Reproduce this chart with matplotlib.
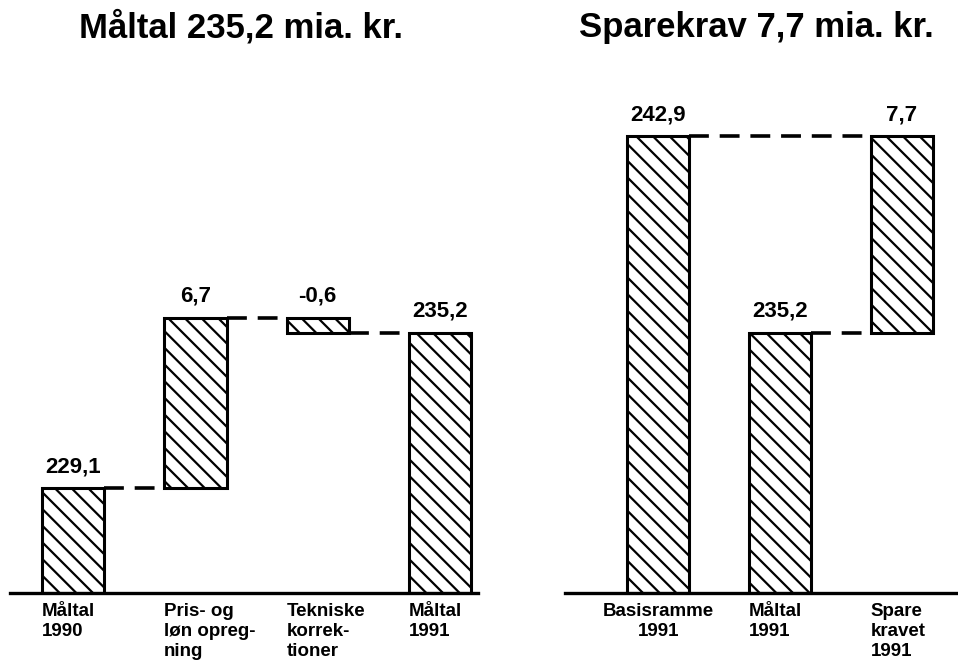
import matplotlib.pyplot as plt
from matplotlib.transforms import blended_transform_factory

plt.rcParams["font.family"] = ["Liberation Sans", "DejaVu Sans"]
plt.rcParams["font.weight"] = "bold"
plt.rcParams["hatch.linewidth"] = 1.6

# data
BASE = 225.0  # the value axes start here (cut axis)
left_title = "Måltal 235,2 mia. kr."
left_labels = ["Måltal\n1990", "Pris- og\nløn opreg-\nning", "Tekniske\nkorrek-\ntioner", "Måltal\n1991"]
left_values = [229.1, 6.7, -0.6, 235.2]
left_text = ["229,1", "6,7", "-0,6", "235,2"]
left_kind = ["total", "delta", "delta", "total"]

right_title = "Sparekrav 7,7 mia. kr."
right_labels = ["Basisramme\n1991", "Måltal\n1991", "Spare\nkravet\n1991"]
right_values = [242.9, 235.2, 7.7]
right_text = ["242,9", "235,2", "7,7"]
right_kind = ["total", "total", "delta_from_prev"]
right_label_ha = ["center", "left", "left"]

W, H = 958, 667
fig = plt.figure(figsize=(W / 100, H / 100), dpi=100)

BW = 0.51
HATCH = "\\\\"


def panel(rect, xlim, values, kinds, texts, labels, title, title_x, ha_list=None):
    ax = fig.add_axes(rect)
    ax.set_xlim(*xlim)
    ax.set_ylim(BASE, 248.25)
    for s in ["top", "left", "right"]:
        ax.spines[s].set_visible(False)
    ax.spines["bottom"].set_linewidth(2.4)
    ax.set_xticks([])
    ax.set_yticks([])
    ax.patch.set_alpha(0)

    bottoms, tops = [], []
    run = BASE
    for i, (v, k) in enumerate(zip(values, kinds)):
        if k == "total":
            b, t = BASE, v
            run = v
        elif k == "delta":
            b, t = run, run + v
            run = run + v
        else:  # sits on previous bar top
            b = values[i - 1]
            t = b + v
        bottoms.append(b)
        tops.append(t)
        ax.bar(i, t - b, bottom=b, width=BW, color="white", edgecolor="black",
               linewidth=2.2, hatch=HATCH)
        ax.annotate(texts[i], xy=(i, max(b, t)), xytext=(0, 8),
                    textcoords="offset points", ha="center", va="bottom",
                    fontsize=16, fontweight="bold")

    trans = blended_transform_factory(ax.transData, ax.transAxes)
    for i, lab in enumerate(labels):
        ha = ha_list[i] if ha_list else "left"
        x = i if ha == "center" else i - BW / 2
        ax.annotate(lab, xy=(x, 0), xycoords=trans, xytext=(0, -7),
                    textcoords="offset points", ha=ha, va="top",
                    fontsize=13.5, fontweight="bold", linespacing=1.25)
    fig.text(title_x, 1 - 27 / H, title, ha="center", va="center",
             fontsize=25, fontweight="bold")
    return ax, bottoms, tops


def dash(ax, x0, x1, y):
    ax.plot([x0, x1], [y, y], color="black", linewidth=2.6,
            dashes=(5.5, 3.0), solid_capstyle="butt", dash_capstyle="butt")


axL, bL, tL = panel([10 / W, 74 / H, 468 / W, 593 / H], (-0.515, 3.31),
                    left_values, left_kind, left_text, left_labels,
                    left_title, 241 / W)
dash(axL, 0 + BW / 2, 1 - BW / 2, tL[0])
dash(axL, 1 + BW / 2, 2 - BW / 2, tL[1])
dash(axL, 2 + BW / 2, 3 - BW / 2, tL[3])

axR, bR, tR = panel([565 / W, 74 / H, 393 / W, 593 / H], (-0.764, 2.46),
                    right_values, right_kind, right_text, right_labels,
                    right_title, 756 / W, right_label_ha)
dash(axR, 0 + BW / 2, 2 - BW / 2, tR[0])
dash(axR, 1 + BW / 2, 2 - BW / 2, tR[1])

fig.savefig("out.png", dpi=100)
